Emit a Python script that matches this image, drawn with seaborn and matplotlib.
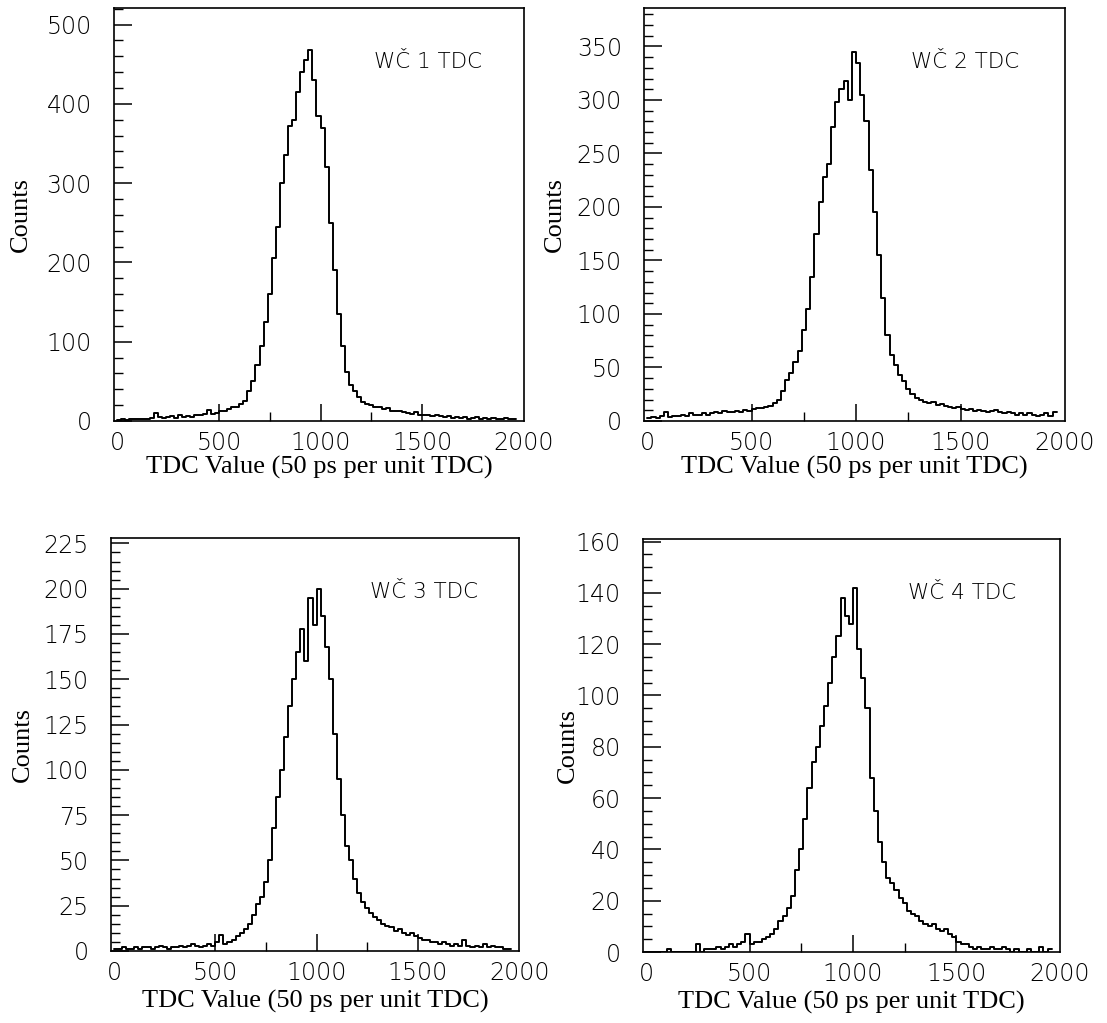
import numpy as np
import pandas as pd
import matplotlib
matplotlib.use('Agg')
import matplotlib.pyplot as plt
import seaborn as sns
from matplotlib.ticker import MultipleLocator, FixedLocator

sns.set_style("white")

# TDC histograms, 20-unit bins from 0 to 1960 (counts)
bin_width = 20
bin_range = (0, 1960)
bin_centers = np.arange(10, 1960, 20)

wc1_counts = [1, 2, 1, 2, 2, 3, 2, 3,
              4, 10, 5, 4,
              5, 6, 4, 7, 5, 6, 5, 8,
              8, 9, 14, 9, 10,
              12, 13, 15, 17, 18, 21, 25, 38, 50, 70, 95, 125, 160, 205, 245,
              300, 335, 372, 380, 415, 440, 455, 468, 430, 385,
              370, 320, 250, 190, 135, 95, 62, 46, 38, 30,
              24, 22, 20, 18, 17, 15, 16, 13, 12, 13,
              11, 10, 9, 11, 8, 7, 8, 6, 7, 6,
              5, 6, 4, 5, 4, 5, 3, 4, 5, 3,
              4, 3, 4, 3, 2, 4, 3, 2]

wc2_counts = [3, 4, 3, 5, 8, 4, 5, 5,
              6, 5, 7, 6, 6, 7, 6, 7,
              8, 7, 9, 8, 8, 9, 8, 10, 9,
              11, 12, 12, 13, 14, 17, 20, 28, 38, 45, 55, 65, 85, 105, 135,
              175, 205, 228, 240, 275, 298, 310, 318, 300, 345,
              335, 305, 280, 235, 195, 155, 115, 80, 62, 52,
              43, 37, 30, 25, 21, 20, 18, 17, 18, 15,
              16, 14, 13, 12, 13, 11, 10, 11, 9, 10,
              9, 8, 9, 10, 8, 7, 8, 7, 6, 7,
              6, 7, 6, 5, 6, 7, 5, 8]

wc3_counts = [1, 1, 2, 1, 1, 2, 1, 2,
              2, 1, 2, 3, 2, 1, 2, 2,
              3, 2, 3, 4, 3, 2, 3, 4, 3,
              5, 9, 4, 5, 6, 8, 10, 12, 15, 20, 26, 30, 38, 50, 68,
              85, 100, 118, 135, 150, 165, 178, 160, 195, 180,
              200, 185, 168, 150, 120, 95, 75, 58, 50, 40,
              32, 27, 24, 21, 19, 17, 15, 14, 13, 11,
              12, 10, 9, 10, 8, 7, 6, 6, 5, 5,
              4, 5, 4, 3, 4, 3, 6, 3, 2, 3,
              2, 4, 2, 3, 2, 2, 1, 1]

wc4_counts = [0, 0, 0, 0, 0, 1, 0, 0,
              0, 0, 0, 0, 3, 0, 1, 1,
              1, 2, 1, 2, 3, 2, 3, 4, 7,
              3, 4, 4, 5, 6, 7, 9, 12, 14, 17, 22, 32, 40, 52, 64,
              74, 80, 88, 96, 105, 115, 123, 138, 131, 128,
              142, 118, 107, 95, 68, 55, 43, 35, 29, 27,
              24, 21, 19, 16, 15, 14, 12, 11, 10, 11,
              9, 8, 9, 7, 6, 4, 3, 3, 2, 1,
              2, 1, 1, 2, 1, 1, 2, 1, 0, 1,
              0, 0, 1, 0, 0, 2, 0, 1]

panel_titles = ["WČ 1 TDC", "WČ 2 TDC", "WČ 3 TDC", "WČ 4 TDC"]
panel_counts = [wc1_counts, wc2_counts, wc3_counts, wc4_counts]
y_max = [521, 386, 228, 161]
y_major = [100, 50, 25, 20]
y_minor = [20, 10, 5, 5]
x_ticks = [0, 500, 1000, 1500, 2000]
x_minor_ticks = [750, 1250]

# axes boxes in figure fractions [left, bottom, width, height]
boxes = [[0.1030, 0.5885, 0.3704, 0.4037],
         [0.5818, 0.5885, 0.3803, 0.4037],
         [0.1003, 0.0704, 0.3686, 0.4037],
         [0.5808, 0.0694, 0.3767, 0.4037]]
ylabel_x = [-0.226, -0.211, -0.216, -0.179]
xlabel_y = [-0.112, -0.112, -0.123, -0.123]

serif = "Liberation Serif"
sans = "DejaVu Sans"

fig = plt.figure(figsize=(11.07, 10.23), dpi=100)

for i in range(4):
    ax = fig.add_axes(boxes[i])
    df = pd.DataFrame({"tdc": bin_centers, "n": panel_counts[i]})
    sns.histplot(data=df, x="tdc", weights="n", binwidth=bin_width, binrange=bin_range,
                 element="step", fill=False, color="black", linewidth=1.4, ax=ax)

    ax.set_xlim(-15, 2000)
    ax.set_ylim(0, y_max[i])
    ax.xaxis.set_major_locator(FixedLocator(x_ticks))
    ax.xaxis.set_minor_locator(FixedLocator(x_minor_ticks))
    ax.yaxis.set_major_locator(MultipleLocator(y_major[i]))
    ax.yaxis.set_minor_locator(MultipleLocator(y_minor[i]))

    ax.tick_params(axis="both", which="both", direction="in", colors="black",
                   labelcolor="black", bottom=True, left=True, top=False, right=False)
    ax.tick_params(axis="y", which="major", length=13, width=1.1, pad=16, labelsize=17)
    ax.tick_params(axis="y", which="minor", length=6.5, width=1.0)
    ax.tick_params(axis="x", which="major", length=12, width=1.1, pad=7, labelsize=17)
    ax.tick_params(axis="x", which="minor", length=6.5, width=1.0)
    for lab in ax.get_xticklabels() + ax.get_yticklabels():
        lab.set_family(sans)
        lab.set_fontweight("light")
    # no tick marks drawn at the ends of the x range
    xt = ax.xaxis.get_major_ticks()
    xt[0].tick1line.set_visible(False)
    xt[-1].tick1line.set_visible(False)

    for sp in ax.spines.values():
        sp.set_visible(True)
        sp.set_color("black")
        sp.set_linewidth(1.2)

    ax.set_xlabel("TDC Value (50 ps per unit TDC)", family=serif, fontsize=19,
                  color="black", va="center")
    ax.xaxis.set_label_coords(0.5, xlabel_y[i])
    ax.set_ylabel("Counts", family=serif, fontsize=19, color="black", va="center")
    ax.yaxis.set_label_coords(ylabel_x[i], 0.5)

    ax.text(0.635, 0.87, panel_titles[i], transform=ax.transAxes, family=sans,
            fontsize=15.5, fontweight="light", color="black", ha="left", va="center")

fig.savefig("out.png", dpi=100, facecolor="white")
